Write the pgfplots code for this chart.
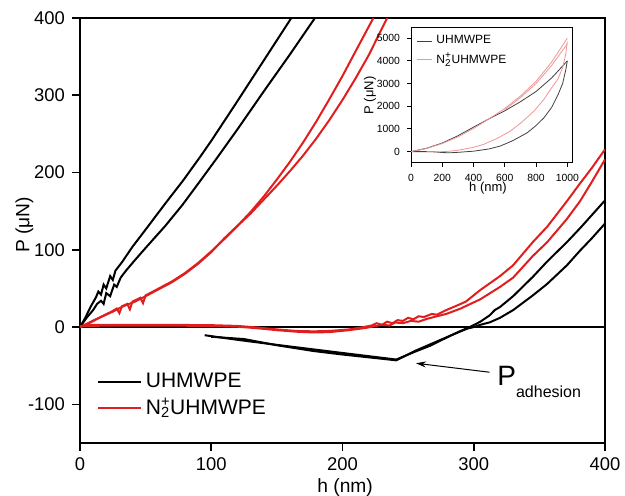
\documentclass[border=0pt]{standalone}
\usepackage{fontspec}
\setmainfont{Liberation Sans}
\usepackage{pgfplots}
\pgfplotsset{compat=1.18}
\usetikzlibrary{arrows.meta}
\definecolor{redc}{RGB}{225,30,30}
\definecolor{pinkc}{RGB}{240,150,150}

\begin{document}
\begin{tikzpicture}
\begin{axis}[
  name=main, at={(0,0)}, anchor=south west,
  scale only axis, width=262.5pt, height=212.5pt,
  xmin=0, xmax=400, ymin=-150, ymax=400,
  xtick={0,100,...,400}, ytick={-100,0,...,400},
  tick align=outside, tick pos=left, major tick length=4pt,
  axis line style={line width=0.8pt}, every tick/.style={line width=0.8pt, black},
  tick label style={font=\fontsize{9.2}{10}\selectfont},
  /pgf/number format/assume math mode=true,
  xlabel={h (nm)}, ylabel={P (μN)},
  label style={font=\fontsize{9.6}{11}\selectfont},
  xlabel style={at={(axis description cs:0.505,-0.104)}, anchor=center},
  ylabel style={at={(axis description cs:-0.106,0.513)}, anchor=center},
  legend style={at={(0.02,0.185)}, anchor=north west, draw=none, fill=none,
    font=\fontsize{10.5}{12}\selectfont, row sep=0pt},
  legend image code/.code={\draw[#1] (0pt,0pt) -- (21.5pt,0pt);},
  legend cell align=left,
]
% zero line
\addplot[black, line width=0.6pt, forget plot] coordinates {(0,0) (400,0)};

% UHMWPE loading
\addplot[black, line width=1pt, forget plot] coordinates {
 (0,0) (4,12) (8,26) (12,38) (14,46) (16,42) (18,55) (20,50) (23,66) (25,61) (27,73)
 (32,84) (40,104) (50.8,128) (65,160) (78.7,190) (91.4,220) (100,241) (119.4,291)
 (140,345) (161,400)};
\addplot[black, line width=1pt, forget plot] coordinates {
 (0,0) (5,12) (10,22) (13,30) (16,34) (18,30) (20,44) (23,40) (26,55) (28,52) (31,64)
 (35,73) (42,87) (50.8,104) (65,131) (78,158) (90.2,186) (104,218) (120,256)
 (140,305) (160,353) (179,400)};
% UHMWPE unloading
\addplot[black, line width=1pt, forget plot] coordinates {
 (400,164) (390,145) (381,128) (371,110) (356,85) (345,65) (330,40) (320,26)
 (316,22) (312,15) (305,7) (297,0) (290,-5) (280,-13) (267,-24) (255,-32) (241,-42)
 (200,-33.5) (150,-23) (120,-16.5) (95,-10.5)};
\addplot[black, line width=1pt, forget plot] coordinates {
 (400,134) (390,115) (381,99) (371,80) (356,56) (345,41) (330,22) (320,12)
 (312,6) (305,3) (300,0) (295,-2) (285,-9) (270,-20) (255,-31) (241,-43)
 (200,-35.5) (178,-31) (150,-23.5) (125,-15.5) (100,-12.5)};

% N2+ UHMWPE loading
\addplot[redc, line width=1pt, forget plot] coordinates {
 (0,0) (6,5) (12,10) (18,15) (24,20) (28,24) (30,18) (32,27) (36,30) (38,23)
 (40,33) (46,38) (48,31) (50,41) (60,50) (70,59) (80,70) (90,83) (100,98)
 (110,114) (120,131) (130,149) (140,169) (150,191) (160,214) (170,239) (180,266)
 (190,295) (200,325) (210,357) (223.5,400)};
\addplot[redc, line width=1pt, forget plot] coordinates {
 (0,0) (8,6) (16,13) (25,20) (33,27) (42,33) (50,40) (60,49) (70,58) (80,69)
 (90,82) (100,97) (110,115) (120,131) (130,147) (140,165) (150,183) (160,202)
 (170,222) (180,244) (190,268) (200,294) (210,322) (220,352) (234,400)};
% N2+ UHMWPE unloading
\addplot[redc, line width=1pt, forget plot] coordinates {
 (400,230) (390,206) (381,186) (371,163) (356,130) (345,110) (330,80) (320,66)
 (305,48) (294,33) (286,27) (279,22) (272,16) (268,17) (262,13) (258,14) (254,10)
 (250,12) (246,8) (242,9) (238,5) (234,7) (230,3) (226,5) (222,2) (216,0)
 (205,-3) (190,-5) (178,-5.5) (165,-5) (150,-3) (135,-0.5) (120,1.5) (100,2.5)
 (60,3) (20,3) (5,3) (0,0)};
\addplot[redc, line width=1pt, forget plot] coordinates {
 (400,217) (390,188) (381,163) (371,140) (356,110) (345,92) (330,64) (320,52)
 (305,36) (290,24) (279,17) (272,14) (265,11) (258,7) (252,8) (246,5) (240,6)
 (236,2) (230,3) (224,1) (218,-1) (205,-4) (190,-6.5) (178,-7) (165,-6)
 (150,-4) (135,-1.5) (120,0.5) (100,1.5) (60,2) (20,2) (0,1)};

\addlegendimage{black, line width=1pt}
\addlegendentry{UHMWPE}
\addlegendimage{redc, line width=1pt}
\addlegendentry{N\rlap{\textsuperscript{+}}\textsubscript{2}UHMWPE}

% annotation
\draw[line width=0.5pt, -{Stealth[length=5pt,width=3pt]}] (axis cs:312,-58.4) -- (axis cs:256,-46.8);
\node[anchor=base west, inner sep=0pt] at (axis cs:317.7,-75.3)
  {\fontsize{14}{14}\selectfont P\raisebox{-6pt}{\fontsize{8}{8}\selectfont adhesion}};
\end{axis}

\begin{axis}[
  at={(165.5pt,140pt)}, anchor=south west,
  scale only axis, width=80.5pt, height=67.5pt,
  axis background/.style={fill=white},
  xmin=0, xmax=1030, ymin=-500, ymax=5450,
  xtick={0,200,...,1000}, ytick={0,1000,...,5000},
  tick align=outside, tick pos=left, major tick length=2pt,
  axis line style={line width=0.5pt}, every tick/.style={line width=0.5pt, black},
  tick label style={font=\fontsize{5.2}{6}\selectfont},
  /pgf/number format/assume math mode=true,
  /pgf/number format/set thousands separator={},
  xlabel={h (nm)}, ylabel={P (μN)},
  label style={font=\fontsize{6.5}{7}\selectfont},
  xlabel style={at={(axis description cs:0.478,-0.185)}, anchor=center},
  ylabel style={at={(axis description cs:-0.255,0.5)}, anchor=center},
  legend style={at={(0.02,0.99)}, anchor=north west, draw=none, fill=none,
    font=\fontsize{6}{6.5}\selectfont, row sep=-1pt, inner sep=1pt},
  legend image code/.code={\draw[#1] (0pt,0pt) -- (7.5pt,0pt);},
  legend cell align=left,
]
\addplot[black!75, line width=0.4pt, forget plot] coordinates {
 (0,0) (100,150) (200,380) (300,700) (400,1080) (500,1450) (600,1800) (700,2200)
 (800,2650) (900,3250) (1000,4000)};
\addplot[black!75, line width=0.4pt, forget plot] coordinates {
 (1000,4000) (990,3600) (970,3000) (940,2500) (900,1950) (850,1490) (800,1150)
 (743,830) (650,480) (572,250) (500,120) (400,20) (300,-30) (250,-50) (200,-40)
 (150,-10) (100,0) (0,0)};
\addplot[pinkc, line width=0.4pt, forget plot] coordinates {
 (0,0) (100,140) (200,360) (300,650) (400,1020) (500,1450) (600,1900) (700,2450)
 (800,3100) (900,3950) (1000,5000)};
\addplot[pinkc, line width=0.4pt, forget plot] coordinates {
 (600,1850) (700,2380) (800,3000) (900,3800) (1000,4750)};
\addplot[pinkc, line width=0.4pt, forget plot] coordinates {
 (1000,4850) (990,4300) (970,3700) (940,3200) (893,2750) (850,2300) (786,1780)
 (700,1250) (636,906) (550,580) (465,322) (400,190) (300,60) (250,20) (200,0)
 (150,-10) (100,0)};
\addlegendimage{black!75, line width=0.4pt}
\addlegendentry{UHMWPE}
\addlegendimage{pinkc, line width=0.4pt}
\addlegendentry{N\rlap{\textsuperscript{+}}\textsubscript{2}UHMWPE}
\end{axis}

\pgfresetboundingbox
\path (-40pt,-26.5pt) rectangle (272.5pt,221.5pt);
\end{tikzpicture}
\end{document}
